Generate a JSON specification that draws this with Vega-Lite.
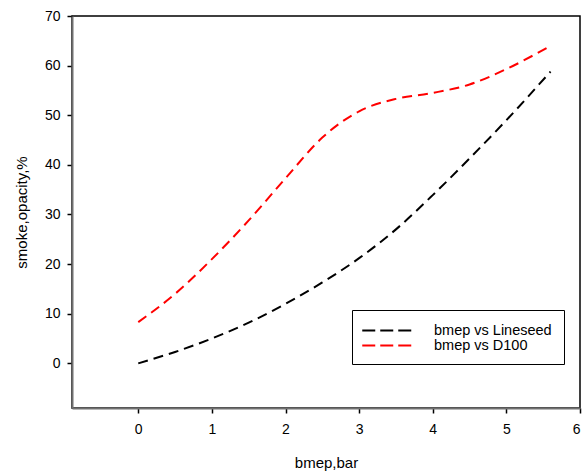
{
  "$schema": "https://vega.github.io/schema/vega-lite/v6.json",
  "width": 508,
  "height": 392,
  "autosize": "none",
  "padding": {"left": 72, "top": 16, "right": 6, "bottom": 64},
  "background": "white",
  "config": {
    "view": {"stroke": "black", "strokeWidth": 1.5},
    "font": "Liberation Sans",
    "axis": {
      "grid": false,
      "domainColor": "#707070",
      "domainWidth": 2,
      "tickColor": "black",
      "tickWidth": 1.5,
      "tickSize": 5,
      "labelFont": "Liberation Sans",
      "labelFontSize": 14,
      "labelColor": "black",
      "titleFont": "Liberation Sans",
      "titleFontSize": 15,
      "titleFontWeight": "normal",
      "titleColor": "black"
    }
  },
  "data": {
    "values": [
      {"bmep": 0, "smoke": 0, "series": "bmep vs Lineseed"},
      {"bmep": 0.5, "smoke": 2.3, "series": "bmep vs Lineseed"},
      {"bmep": 1, "smoke": 5, "series": "bmep vs Lineseed"},
      {"bmep": 1.5, "smoke": 8.2, "series": "bmep vs Lineseed"},
      {"bmep": 2, "smoke": 12, "series": "bmep vs Lineseed"},
      {"bmep": 2.5, "smoke": 16.3, "series": "bmep vs Lineseed"},
      {"bmep": 3, "smoke": 21.2, "series": "bmep vs Lineseed"},
      {"bmep": 3.5, "smoke": 27, "series": "bmep vs Lineseed"},
      {"bmep": 4, "smoke": 33.9, "series": "bmep vs Lineseed"},
      {"bmep": 4.5, "smoke": 41.3, "series": "bmep vs Lineseed"},
      {"bmep": 5, "smoke": 49, "series": "bmep vs Lineseed"},
      {"bmep": 5.6, "smoke": 58.8, "series": "bmep vs Lineseed"},
      {"bmep": 0, "smoke": 8.3, "series": "bmep vs D100"},
      {"bmep": 0.5, "smoke": 14, "series": "bmep vs D100"},
      {"bmep": 1, "smoke": 21, "series": "bmep vs D100"},
      {"bmep": 1.5, "smoke": 28.8, "series": "bmep vs D100"},
      {"bmep": 2, "smoke": 37.3, "series": "bmep vs D100"},
      {"bmep": 2.5, "smoke": 45.5, "series": "bmep vs D100"},
      {"bmep": 3, "smoke": 50.8, "series": "bmep vs D100"},
      {"bmep": 3.5, "smoke": 53.3, "series": "bmep vs D100"},
      {"bmep": 4, "smoke": 54.5, "series": "bmep vs D100"},
      {"bmep": 4.5, "smoke": 56.2, "series": "bmep vs D100"},
      {"bmep": 5, "smoke": 59.3, "series": "bmep vs D100"},
      {"bmep": 5.6, "smoke": 64, "series": "bmep vs D100"}
    ]
  },
  "mark": {"type": "line", "interpolate": "monotone", "strokeWidth": 2, "strokeDash": [10, 6]},
  "encoding": {
    "x": {
      "field": "bmep", "type": "quantitative",
      "scale": {"domain": [-0.9, 6], "nice": false, "zero": false},
      "axis": {"title": "bmep,bar", "values": [0, 1, 2, 3, 4, 5, 6], "labelPadding": 9, "titlePadding": 19}
    },
    "y": {
      "field": "smoke", "type": "quantitative",
      "scale": {"domain": [-9, 70], "nice": false, "zero": false},
      "axis": {"title": "smoke,opacity,%", "values": [0, 10, 20, 30, 40, 50, 60, 70], "labelPadding": 7, "titlePadding": 15}
    },
    "color": {
      "field": "series", "type": "nominal",
      "scale": {"domain": ["bmep vs Lineseed", "bmep vs D100"], "range": ["black", "red"]},
      "legend": {
        "title": null,
        "orient": "none",
        "legendX": 280,
        "legendY": 294,
        "symbolType": "M-3.5,0H3.5",
        "symbolSize": 225,
        "symbolStrokeWidth": 2,
        "symbolDash": [13, 5],
        "symbolOffset": 16,
        "labelFont": "Liberation Sans",
        "labelFontSize": 14.5,
        "labelColor": "black",
        "labelOffset": 37,
        "rowPadding": 0,
        "padding": 12,
        "strokeColor": "black",
        "fillColor": "white"
      }
    }
  }
}
